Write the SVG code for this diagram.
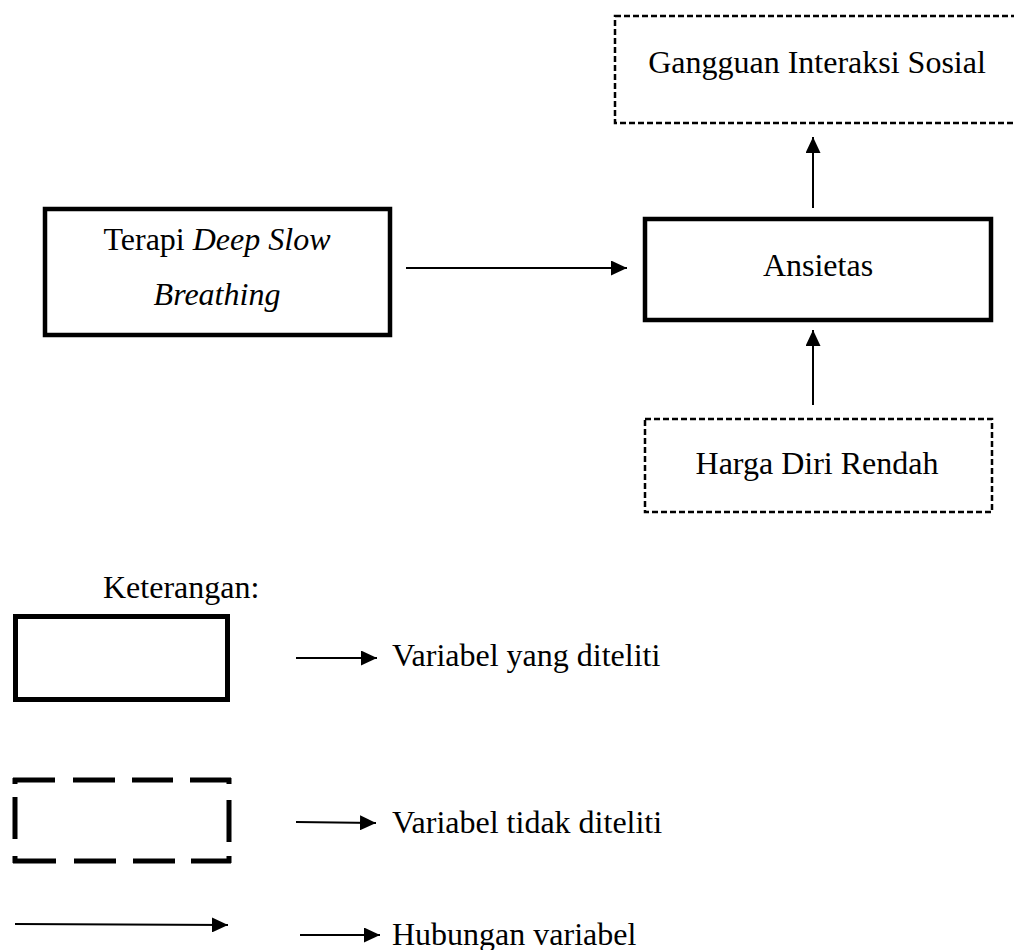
<svg xmlns="http://www.w3.org/2000/svg" width="1014" height="950" viewBox="0 0 1014 950">
<style>
text{font-family:"Liberation Serif","Times New Roman",serif;font-size:32px;fill:#000}
.it{font-style:italic}
.solid{fill:#fff;stroke:#000;stroke-width:4.5}
.dash{fill:none;stroke:#000;stroke-width:2.5;stroke-dasharray:6 3}
.conn{stroke:#000;stroke-width:2;fill:none}
.leg{stroke:#000;stroke-width:5;fill:none}
</style>
<defs>
<marker id="ah" markerUnits="userSpaceOnUse" markerWidth="16" markerHeight="15" refX="16" refY="7.5" orient="auto">
<path d="M0,0 L16,7.5 L0,15 z" fill="#000"/>
</marker>
</defs>
<rect width="1014" height="950" fill="#fff"/>
<g id="gangguan">
<rect class="dash" x="615" y="16" width="420" height="107"/>
<text x="817" y="73" text-anchor="middle">Gangguan Interaksi Sosial</text>
</g>
<g id="terapi">
<rect class="solid" x="45" y="209" width="345" height="126"/>
<text x="217" y="250" text-anchor="middle">Terapi <tspan class="it">Deep Slow</tspan></text>
<text x="217" y="305" text-anchor="middle" class="it">Breathing</text>
</g>
<g id="ansietas">
<rect class="solid" x="645" y="219" width="346" height="101"/>
<text x="818" y="276" text-anchor="middle">Ansietas</text>
</g>
<g id="harga">
<rect class="dash" x="645" y="419" width="347" height="93"/>
<text x="817" y="474" text-anchor="middle">Harga Diri Rendah</text>
</g>
<g id="connectors">
<line class="conn" x1="406" y1="268" x2="627" y2="268" marker-end="url(#ah)"/>
<line class="conn" x1="813" y1="208" x2="813" y2="137" marker-end="url(#ah)"/>
<line class="conn" x1="813" y1="405" x2="813" y2="330" marker-end="url(#ah)"/>
</g>
<g id="legend">
<text x="103" y="598">Keterangan:</text>
<rect x="15.5" y="616.5" width="212" height="83" fill="none" stroke="#000" stroke-width="5"/>
<g class="leg">
<path d="M13,780 H55 M73,780 H115 M132,780 H173 M190,780 H231"/>
<path d="M13,861 H56 M74,861 H116 M133,861 H175 M191,861 H231"/>
<path d="M15,778 V784 M15,797 V839 M15,856 V863"/>
<path d="M229,778 V784 M229,800 V842 M229,856 V863"/>
</g>
<line class="conn" x1="15" y1="924" x2="228" y2="925" marker-end="url(#ah)"/>
<line class="conn" x1="296" y1="658" x2="377" y2="658" marker-end="url(#ah)"/>
<text x="392" y="666">Variabel yang diteliti</text>
<line class="conn" x1="296" y1="822" x2="376" y2="823" marker-end="url(#ah)"/>
<text x="392" y="833">Variabel tidak diteliti</text>
<line class="conn" x1="300" y1="935" x2="380" y2="935" marker-end="url(#ah)"/>
<text x="392" y="945">Hubungan variabel</text>
</g>
</svg>
